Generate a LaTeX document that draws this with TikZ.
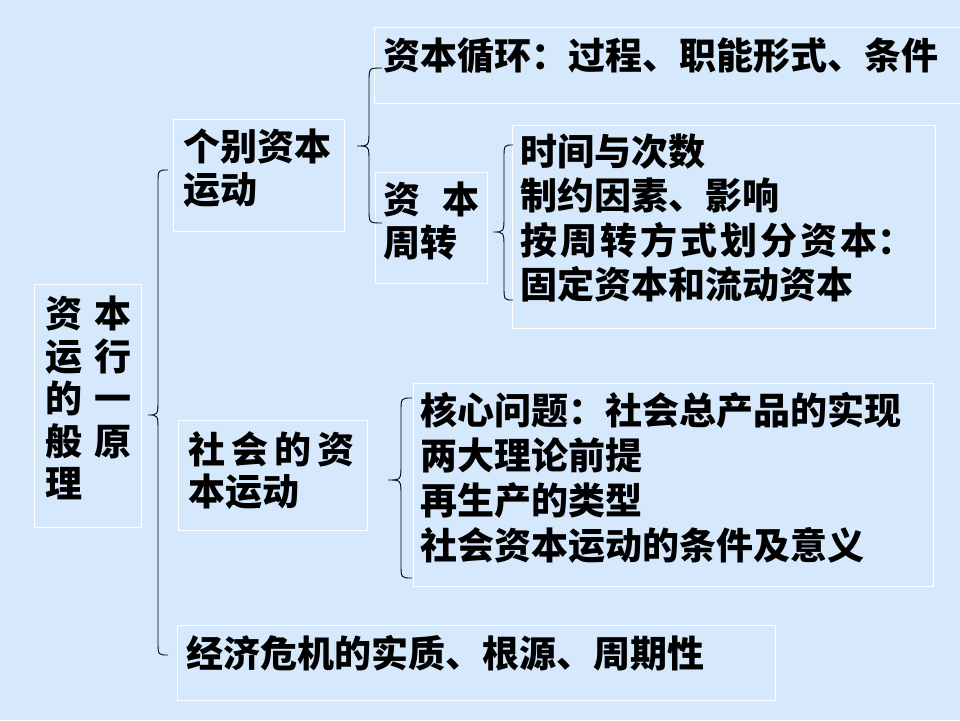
\documentclass[tikz,border=0pt]{standalone}
\usepackage{fontspec}
\newfontfamily\cjk{Noto Sans CJK SC}
\definecolor{bgblue}{RGB}{214,233,252}
\tikzset{
  box/.style={draw=white, line width=0.9pt, rectangle, inner sep=0pt, anchor=north west},
  txt/.style={anchor=west, inner sep=0pt, align=left, text=black, font=\cjk\bfseries\fontsize{37}{44.5}\selectfont},
  bracelink/.style={draw=black, line width=0.9pt}
}
% #1 vertical x, #2,#3 top end, #4,#5 tip, #6,#7 bottom end
\newcommand{\mybrace}[7]{%
  \draw[bracelink] (#2,#3) .. controls (#1,#3) .. ({#1},{#3+14}) -- ({#1},{#5-16})
    .. controls (#1,#5) .. (#4,#5) .. controls (#1,#5) .. ({#1},{#5+16})
    -- ({#1},{#7-14}) .. controls (#1,#7) .. (#6,#7);}
\begin{document}
\begin{tikzpicture}[x=1pt,y=-1pt]
\fill[bgblue] (0,0) rectangle (960,720);
\useasboundingbox (0,0) rectangle (960,720);
% boxes
\node[box, minimum width=107pt, minimum height=243pt] (main) at (34,284) {};
\node[box, minimum width=171pt, minimum height=112pt] (A) at (173,119) {};
\node[box, minimum width=600pt, minimum height=76pt] (C) at (374,27) {};
\node[box, minimum width=112pt, minimum height=111pt] (B) at (375,172) {};
\node[box, minimum width=423pt, minimum height=203pt] (D) at (512,125) {};
\node[box, minimum width=189pt, minimum height=110pt] (E) at (178,420) {};
\node[box, minimum width=520pt, minimum height=203pt] (F) at (413,383) {};
\node[box, minimum width=598pt, minimum height=75pt] (G) at (177,625) {};
% texts
\node[txt, font=\cjk\bfseries\fontsize{37}{42.5}\selectfont] (maint) at (45,398)
  {资\hspace{12pt}本\\运\hspace{12pt}行\\的\hspace{12pt}一\\般\hspace{12pt}原\\理};
\node[txt, font=\cjk\bfseries\fontsize{37}{43}\selectfont] (At) at (183,168.5) {个别资本\\运动};
\node[txt] (Ct) at (383,56) {资本循环：过程、职能形式、条件};
\node[txt, font=\cjk\bfseries\fontsize{37}{43}\selectfont] (Bt) at (383,221.5) {资\hspace{22pt}本\\周转};
\node[txt] (Dt) at (520,218) {时间与次数\\制约因素、影响\\按\hspace{3pt}周\hspace{3pt}转\hspace{3pt}方\hspace{3pt}式\hspace{3pt}划\hspace{3pt}分\hspace{3pt}资\hspace{3pt}本：\\固定资本和流动资本};
\node[txt, font=\cjk\bfseries\fontsize{37}{42}\selectfont] (Et) at (188,471) {社\hspace{6pt}会\hspace{6pt}的\hspace{6pt}资\\本运动};
\node[txt, font=\cjk\bfseries\fontsize{37}{45}\selectfont] (Ft) at (420,477.5) {核心问题：社会总产品的实现\\两大理论前提\\再生产的类型\\社会资本运动的条件及意义};
\node[txt] (Gt) at (186,653) {经济危机的实质、根源、周期性};
% braces
\mybrace{158}{168}{170}{148}{415}{168}{655}
\mybrace{369}{382}{68}{357}{146}{382}{223}
\mybrace{504}{513}{145}{493}{232}{513}{300}
\mybrace{401}{412}{398}{388}{480}{412}{578}
\end{tikzpicture}
\end{document}
